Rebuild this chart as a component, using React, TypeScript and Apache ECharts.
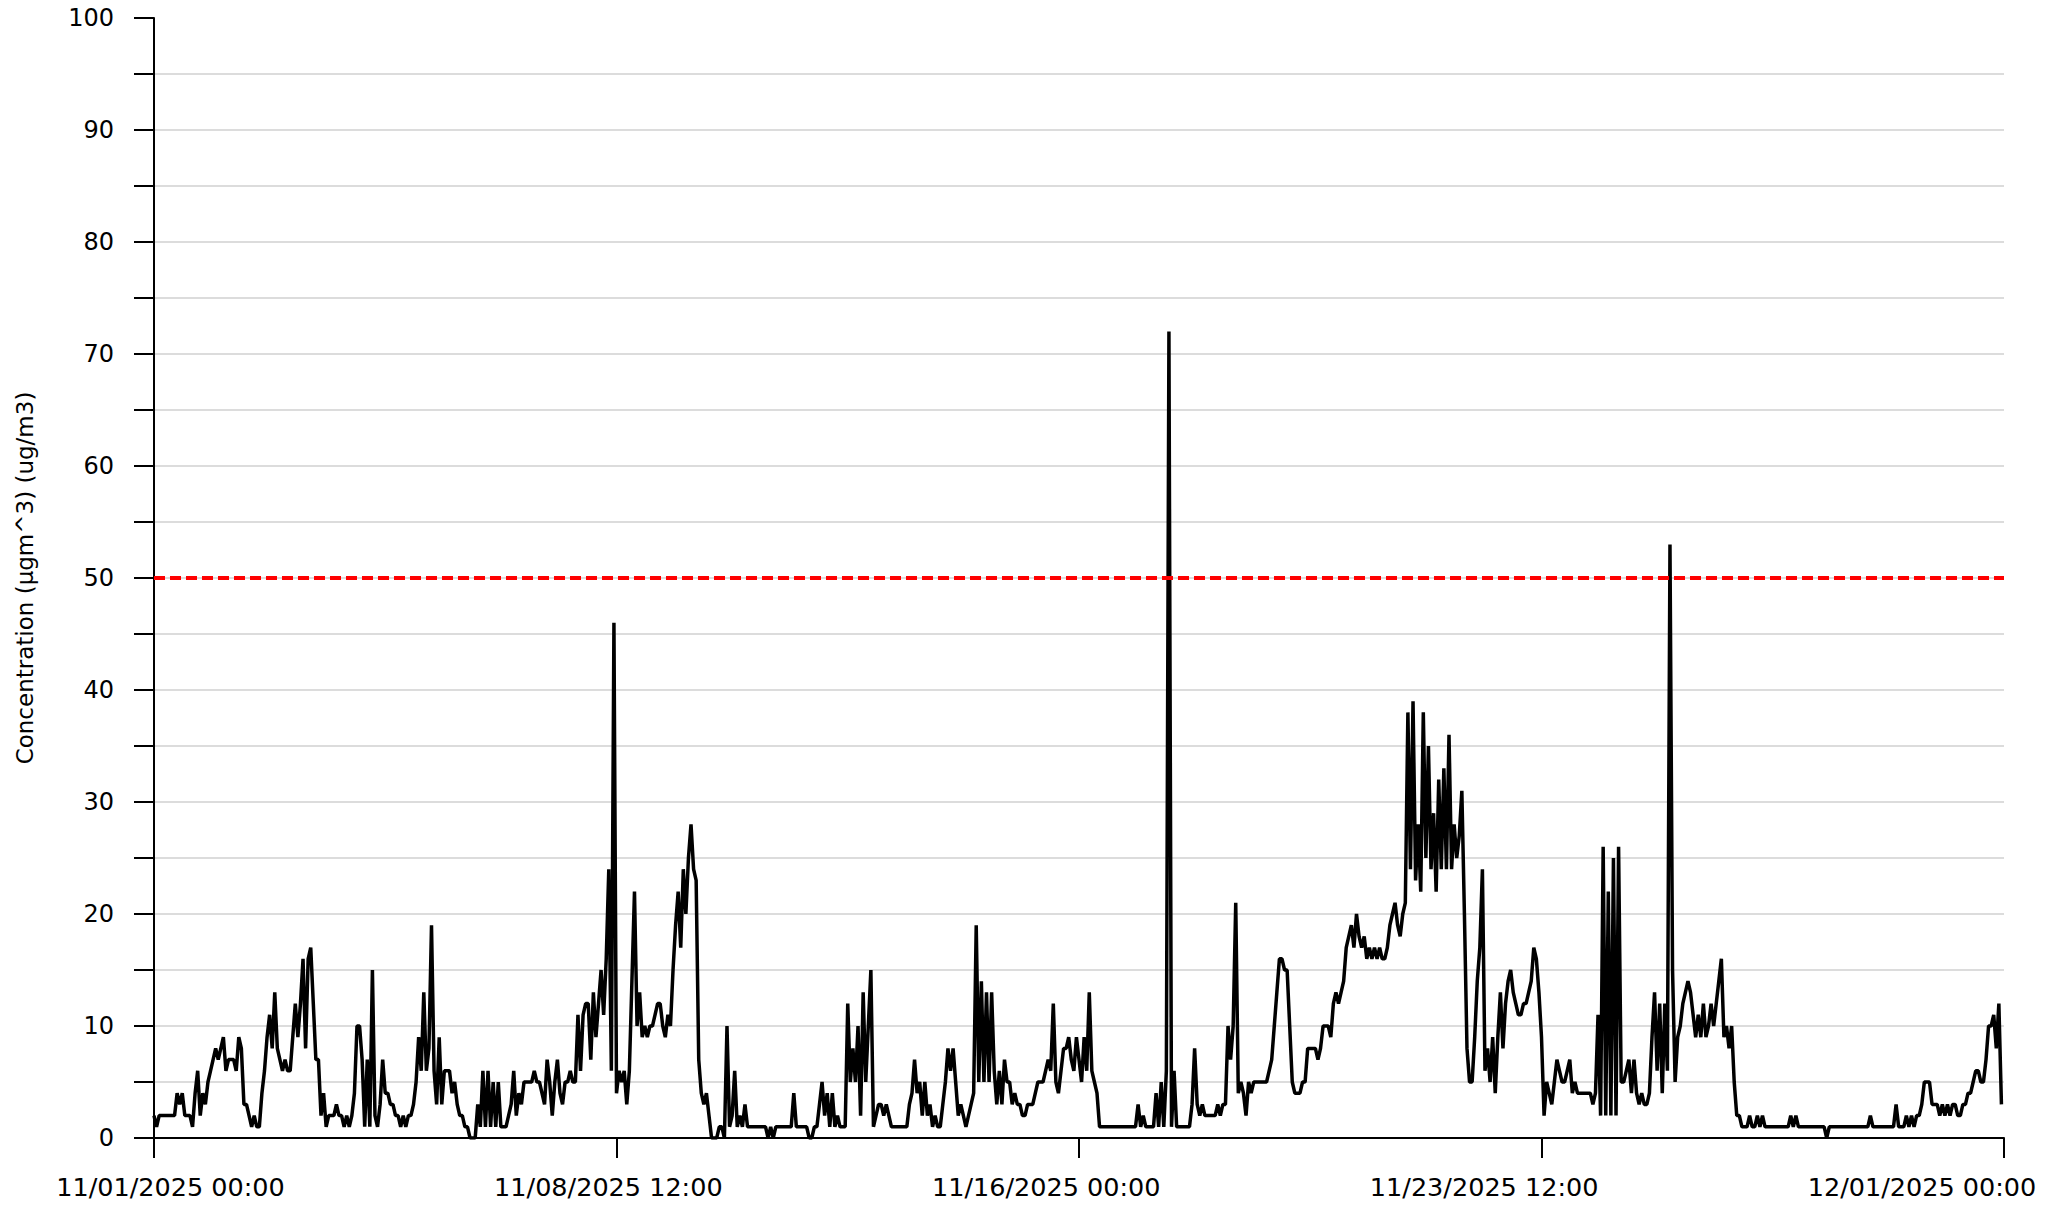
import React, { useEffect, useRef } from 'react';
import * as echarts from 'echarts';

// hourly concentration readings, one row per day, starting 11/01/2025 00:00
const startTime = Date.UTC(2025, 10, 1, 0, 0);

const week1 = [
  2, 1, 2, 2, 2, 2, 2, 2, 2, 4, 3, 4, 2, 2, 2, 1, 4, 6, 2, 4, 3, 5, 6, 7,
  8, 7, 8, 9, 6, 7, 7, 7, 6, 9, 8, 3, 3, 2, 1, 2, 1, 1, 4, 6, 9, 11, 8, 13,
  8, 7, 6, 7, 6, 6, 9, 12, 9, 12, 16, 8, 16, 17, 12, 7, 7, 2, 4, 1, 2, 2, 2, 3,
  2, 2, 1, 2, 1, 2, 4, 10, 10, 7, 1, 7, 1, 15, 2, 1, 3, 7, 4, 4, 3, 3, 2, 2,
  1, 2, 1, 2, 2, 3, 5, 9, 6, 13, 6, 8, 19, 6, 3, 9, 3, 6, 6, 6, 4, 5, 3, 2,
  2, 1, 1, 0, 0, 0, 3, 1, 6, 1, 6, 1, 5, 1, 5, 1, 1, 1, 2, 3, 6, 2, 4, 3,
  5, 5, 5, 5, 6, 5, 5, 4, 3, 7, 5, 2, 5, 7, 4, 3, 5, 5, 6, 5, 5, 11, 6, 11,
];

const week2 = [
  12, 12, 7, 13, 9, 12, 15, 11, 16, 24, 6, 46, 4, 6, 5, 6, 3, 6, 14, 22, 10, 13, 9, 10,
  9, 10, 10, 11, 12, 12, 10, 9, 11, 10, 15, 19, 22, 17, 24, 20, 25, 28, 24, 23, 7, 4, 3, 4,
  2, 0, 0, 0, 1, 1, 0, 10, 1, 2, 6, 1, 2, 1, 3, 1, 1, 1, 1, 1, 1, 1, 1, 0,
  1, 0, 1, 1, 1, 1, 1, 1, 1, 4, 1, 1, 1, 1, 1, 0, 0, 1, 1, 3, 5, 2, 4, 1,
  4, 1, 2, 1, 1, 1, 12, 5, 8, 5, 10, 2, 13, 5, 10, 15, 1, 2, 3, 3, 2, 3, 2, 1,
  1, 1, 1, 1, 1, 1, 3, 4, 7, 4, 5, 2, 5, 2, 3, 1, 2, 1, 1, 3, 5, 8, 6, 8,
  5, 2, 3, 2, 1, 2, 3, 4, 19, 5, 14, 5, 13, 5, 13, 6, 3, 6, 3, 7, 5, 5, 3, 4,
];

const week3 = [
  3, 3, 2, 2, 3, 3, 3, 4, 5, 5, 5, 6, 7, 6, 12, 5, 4, 6, 8, 8, 9, 7, 6, 9,
  7, 5, 9, 6, 13, 6, 5, 4, 1, 1, 1, 1, 1, 1, 1, 1, 1, 1, 1, 1, 1, 1, 1, 3,
  1, 2, 1, 1, 1, 1, 4, 1, 5, 1, 6, 72, 1, 6, 1, 1, 1, 1, 1, 1, 3, 8, 3, 2,
  3, 2, 2, 2, 2, 2, 3, 2, 3, 3, 10, 7, 10, 21, 4, 5, 4, 2, 5, 4, 5, 5, 5, 5,
  5, 5, 6, 7, 10, 13, 16, 16, 15, 15, 10, 5, 4, 4, 4, 5, 5, 8, 8, 8, 8, 7, 8, 10,
  10, 10, 9, 12, 13, 12, 13, 14, 17, 18, 19, 17, 20, 18, 17, 18, 16, 17, 16, 17, 16, 17, 16, 16,
  17, 19, 20, 21, 19, 18, 20, 21, 38, 24, 39, 23, 28, 22, 38, 25, 35, 24, 29, 22, 32, 24, 33, 24,
];

const week4 = [
  36, 24, 28, 25, 27, 31, 20, 8, 5, 5, 9, 14, 17, 24, 6, 8, 5, 9, 4, 9, 13, 8, 12, 14,
  15, 13, 12, 11, 11, 12, 12, 13, 14, 17, 16, 13, 9, 2, 5, 4, 3, 5, 7, 6, 5, 5, 6, 7,
  4, 5, 4, 4, 4, 4, 4, 4, 3, 4, 11, 2, 26, 2, 22, 2, 25, 2, 26, 5, 5, 6, 7, 4,
  7, 4, 3, 4, 3, 3, 4, 9, 13, 6, 12, 4, 12, 6, 53, 15, 5, 9, 10, 12, 13, 14, 13, 11,
  9, 11, 9, 12, 9, 10, 12, 10, 12, 14, 16, 9, 10, 8, 10, 5, 2, 2, 1, 1, 1, 2, 1, 1,
  2, 1, 2, 1, 1, 1, 1, 1, 1, 1, 1, 1, 1, 2, 1, 2, 1, 1, 1, 1, 1, 1, 1, 1,
  1, 1, 1, 0, 1, 1, 1, 1, 1, 1, 1, 1, 1, 1, 1, 1, 1, 1, 1, 1, 2, 1, 1, 1,
];

const week5 = [
  1, 1, 1, 1, 1, 1, 3, 1, 1, 1, 2, 1, 2, 1, 2, 2, 3, 5, 5, 5, 3, 3, 3, 2,
  3, 2, 3, 2, 3, 3, 2, 2, 3, 3, 4, 4, 5, 6, 6, 5, 5, 7, 10, 10, 11, 8, 12, 3,
];

const hourly = [...week1, ...week2, ...week3, ...week4, ...week5];
const tickHours = [0, 180, 360, 540, 720];
const limitValue = 50;

const font = 'DejaVu Sans';

function formatHour(h: number) {
  const d = new Date(startTime + h * 3600000);
  const p = (n: number) => String(n).padStart(2, '0');
  return `${p(d.getUTCMonth() + 1)}/${p(d.getUTCDate())}/${d.getUTCFullYear()} ${p(d.getUTCHours())}:${p(d.getUTCMinutes())}`;
}

export default function App() {
  const ref = useRef<HTMLDivElement>(null);

  useEffect(() => {
    if (!ref.current) return;
    const chart = echarts.init(ref.current, undefined, { renderer: 'svg' });
    chart.setOption({
      animation: false,
      backgroundColor: '#fff',
      grid: { left: 154, right: 61, top: 18, bottom: 70, outerBoundsMode: 'none' },
      xAxis: [
        {
          type: 'value',
          min: 0,
          max: 720,
          interval: 180,
          axisLine: { show: true, lineStyle: { color: '#000', width: 2 } },
          axisTick: { show: true, length: 20, lineStyle: { color: '#000', width: 2 } },
          axisLabel: { show: false },
          splitLine: { show: false },
        },
        {
          // label row: the source chart spaces its date labels a little tighter than its ticks
          type: 'value',
          position: 'bottom',
          min: -6.78,
          max: 753.7,
          axisLine: { show: false },
          axisTick: { show: false },
          splitLine: { show: false },
          axisLabel: {
            customValues: tickHours,
            formatter: (v: number) => formatHour(v),
            margin: 36,
            fontSize: 25.5,
            fontFamily: font,
            color: '#000',
          },
        },
      ],
      yAxis: {
        type: 'value',
        min: 0,
        max: 100,
        interval: 5,
        name: 'Concentration (µgm^3) (ug/m3)',
        nameLocation: 'middle',
        nameGap: 118,
        nameTextStyle: { fontSize: 23, fontFamily: font, color: '#000' },
        axisLine: { show: true, lineStyle: { color: '#000', width: 2 } },
        axisTick: { show: true, length: 20, lineStyle: { color: '#000', width: 2 } },
        axisLabel: {
          margin: 40,
          fontSize: 24,
          fontFamily: font,
          color: '#000',
          formatter: (v: number) => (v % 10 === 0 ? String(v) : ''),
        },
        splitLine: { show: true, showMaxLine: false, lineStyle: { color: '#dcdcdc', width: 2 } },
      },
      series: [
        {
          type: 'line',
          data: [],
          z: 1,
          markLine: {
            silent: true,
            symbol: ['none', 'none'],
            label: { show: false },
            lineStyle: { color: '#ff0000', width: 4, type: [11, 5] },
            data: [{ yAxis: limitValue }],
          },
        },
        {
          type: 'line',
          z: 3,
          data: hourly.map((v, i) => [i, v]),
          showSymbol: false,
          symbol: 'none',
          lineStyle: { color: '#000', width: 3.5 },
        },
      ],
    });
    return () => chart.dispose();
  }, []);

  return <div ref={ref} style={{ position: 'fixed', left: 0, top: 0, width: 2065, height: 1208 }} />;
}
